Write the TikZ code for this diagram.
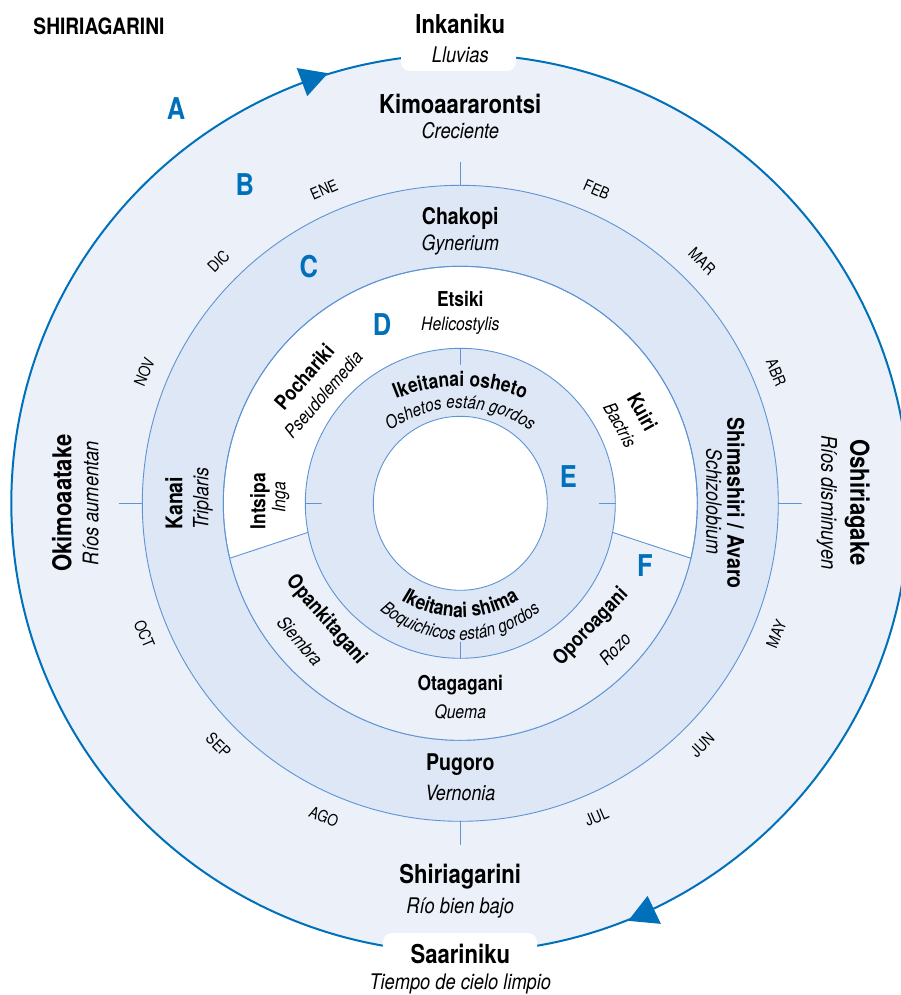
\documentclass[tikz,border=0pt]{standalone}
\usepackage{fontspec}
\setmainfont{TeX Gyre Heros}[FakeStretch=0.85]
\usetikzlibrary{decorations.text}
\definecolor{azul}{RGB}{0,112,186}
\definecolor{linea}{RGB}{95,148,212}
\definecolor{claro}{RGB}{235,240,249}
\definecolor{medio}{RGB}{222,231,245}
\begin{document}
\begin{tikzpicture}[x=1pt, y=1pt, line join=round, line cap=round,
    tit/.style={font=\bfseries\fontsize{#1}{#1}\selectfont, inner sep=0pt, anchor=base},
    sub/.style={font=\itshape\fontsize{#1}{#1}\selectfont, inner sep=0pt, anchor=base},
    mes/.style={font=\fontsize{16}{16}\selectfont, inner sep=0pt},
    letra/.style={font=\bfseries\fontsize{30}{30}\selectfont, text=azul, inner sep=0pt},
    aro/.style={draw=linea, line width=0.9pt}]
    \def\rA{449} \def\rB{318} \def\rC{237} \def\rD{155} \def\rE{87} % radios
    \useasboundingbox (-460.3,-491.7) rectangle (440.7,503.3);
    % anillo exterior y flechas
    \filldraw[fill=claro, draw=azul, line width=2pt] (0,0) circle (\rA pt);
    \fill[azul] (107.1:450) -- (110.6:465) -- (110.6:435) -- cycle;
    \fill[azul] (-68.1:450) -- (-64.5:466) -- (-64.5:435) -- cycle;
    \fill[white, rounded corners=9pt] (-59.3,432.3) rectangle (55.7,540);
    \fill[white, rounded corners=9pt] (-77.3,-429.7) rectangle (76.7,-540);
    % anillos interiores
    \filldraw[aro, fill=medio] (0,0) circle (\rB pt);
    \filldraw[aro, fill=white] (0,0) circle (\rC pt);
    \fill[claro] (-13.4:\rC) arc (-13.4:-166.6:\rC pt) -- (190.8:\rD) arc (-169.2:-10.8:\rD pt) -- cycle;
    \draw[aro] (-13.4:\rC) -- (-10.8:\rD);
    \draw[aro] (193.4:\rC) -- (190.8:\rD);
    \draw[aro] (0,0) circle (\rC pt);
    \filldraw[aro, fill=medio] (0,0) circle (\rD pt);
    \filldraw[aro, fill=white] (0,0) circle (\rE pt);
    \foreach \a in {0,90,180,270}{
        \draw[aro] (\a:\rB) -- (\a:341);
        \draw[aro] (\a:\rD) -- (\a:139);
    }
    % meses
    \foreach \m/\a/\g in {ENE/113.5/23.5, DIC/135/45, NOV/157.5/67.5, FEB/66.5/-23.5, MAR/45/-45, ABR/22.5/-67.5,
        MAY/-22.5/67.5, JUN/-45/45, JUL/-66.5/23.5, AGO/-113.5/-23.5, SEP/-135/-45, OCT/-157.5/-67.5}
        \node[mes, rotate=\g] (m\m) at (\a:342) {\m};
    % letras
    \node[letra] (la) at (-284.3,395) {A};
    \node[letra] (lb) at (-215.5,318.3) {B};
    \node[letra] (lc) at (-151.5,236.6) {C};
    \node[letra] (ld) at (-78.3,178.6) {D};
    \node[letra] (le) at (108,26.6) {E};
    \node[letra] (lf) at (184.7,-62) {F};
    \node[tit=22.5, anchor=west] (titulo) at (-427,477) {SHIRIAGARINI};
    % anillo A
    \node[tit=26] (inkaniku) at (0,470) {Inkaniku};
    \node[sub=21.5] (lluvias) at (0,441) {Lluvias};
    \node[tit=26] (kimo) at (0,390) {Kimoaararontsi};
    \node[sub=21.5] (creciente) at (0,365) {Creciente};
    \node[tit=26, rotate=90] (okimo) at (-389,0) {Okimoaatake};
    \node[sub=21.5, rotate=90] (aumentan) at (-362,0) {Ríos aumentan};
    \node[tit=26, rotate=-90] (oshiri) at (390,1) {Oshiriagake};
    \node[sub=21.5, rotate=-90] (disminuyen) at (361,1) {Ríos disminuyen};
    \node[tit=26] (shiria) at (0,-380) {Shiriagarini};
    \node[sub=21.5] (bajo) at (0,-410) {Río bien bajo};
    \node[tit=26] (saariniku) at (0,-460) {Saariniku};
    \node[sub=21.5] (limpio) at (0,-486) {Tiempo de cielo limpio};
    % anillo B
    \node[tit=23] (chakopi) at (0,279) {Chakopi};
    \node[sub=21] (gynerium) at (0,253) {Gynerium};
    \node[tit=23, rotate=90] (kanai) at (-278,0) {Kanai};
    \node[sub=21, rotate=90] (triplaris) at (-252,5) {Triplaris};
    \node[tit=23, rotate=-90] (shimashiri) at (267,0) {Shimashiri / Avaro};
    \node[sub=21, rotate=-90] (schizo) at (246,2) {Schizolobium};
    \node[tit=23] (pugoro) at (0,-267) {Pugoro};
    \node[sub=21] (vernonia) at (0,-297) {Vernonia};
    % anillo D
    \node[tit=20.5] (etsiki) at (0,197) {Etsiki};
    \node[sub=18.5] (helico) at (0,173) {Helicostylis};
    \node[tit=20.5, anchor=center, rotate=49] (pochariki) at (141:201) {Pochariki};
    \node[sub=18.5, anchor=center, rotate=49] (pseudo) at (141.5:175) {Pseudolemedia};
    \node[tit=20.5, rotate=90] (intsipa) at (-195,2) {Intsipa};
    \node[sub=18.5, rotate=90] (inga) at (-175,6) {Inga};
    \node[tit=20.5, anchor=center, rotate=-61] (kuiri) at (26.7:204) {Kuiri};
    \node[sub=18.5, anchor=center, rotate=-61] (bactris) at (26.1:178) {Bactris};
    \node[tit=20.5, anchor=center, rotate=-49] (opanki) at (-139:178) {Opankitagani};
    \node[sub=18.5, anchor=center, rotate=-49] (siembra) at (-139.4:211) {Siembra};
    \node[tit=20.5] (otagagani) at (0,-187) {Otagagani};
    \node[sub=18.5] (quema) at (0,-215) {Quema};
    \node[tit=20.5, anchor=center, rotate=46.5] (oporo) at (-43.4:180) {Oporoagani};
    \node[sub=18.5, anchor=center, rotate=46.5] (rozo) at (-43.2:212) {Rozo};
    % anillo E, texto curvo
    \path[decorate, decoration={text along path, text align=center,
        text={|\bfseries\fontsize{20.5}{20.5}\selectfont|Ikeitanai osheto}}]
        ([shift={(0,-52)}]125:169) arc (125:55:169pt);
    \path[decorate, decoration={text along path, text align=center,
        text={|\itshape\fontsize{18}{18}\selectfont|Oshetos están gordos}}]
        ([shift={(0,-27)}]140:122) arc (140:40:122pt);
    \path[decorate, decoration={text along path, text align=center,
        text={|\bfseries\fontsize{20.5}{20.5}\selectfont|Ikeitanai shima}}]
        ([shift={(0,-4)}]-140:110) arc (-140:-40:110pt);
    \path[decorate, decoration={text along path, text align=center,
        text={|\itshape\fontsize{18}{18}\selectfont|Boquichicos están gordos}}]
        ([shift={(0,-12.7)}]-145:124) arc (-145:-35:124pt);
\end{tikzpicture}
\end{document}
